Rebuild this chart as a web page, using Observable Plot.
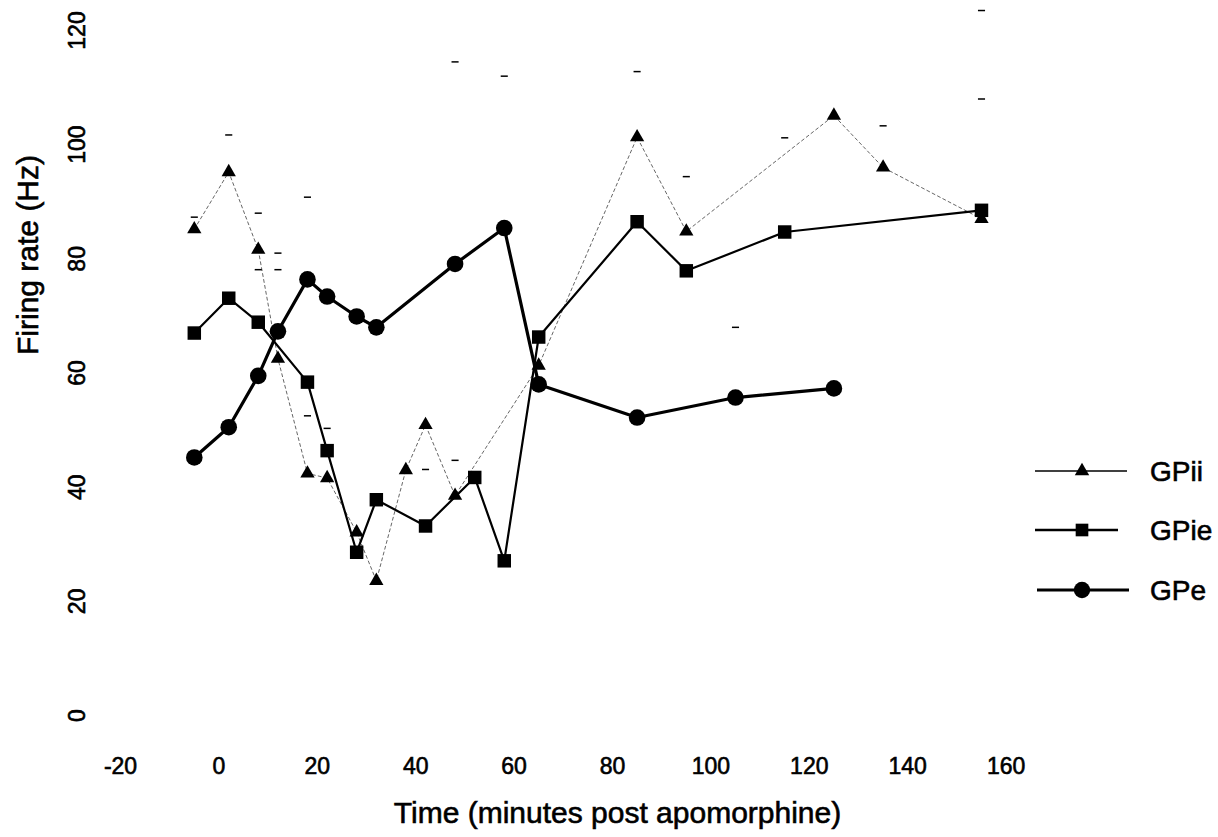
<!DOCTYPE html>
<html><head><meta charset="utf-8">
<script src="https://cdn.jsdelivr.net/npm/d3@7"></script>
<script src="https://cdn.jsdelivr.net/npm/@observablehq/plot@0.6"></script>
<style>
body{margin:0;background:#fff;font-family:"Liberation Sans",Arial,sans-serif;}
#wrap{position:relative;width:1218px;height:837px;overflow:hidden;}
#legend{position:absolute;left:1030px;top:445px;}
#wrap svg text{paint-order:stroke;stroke:#000;stroke-width:0.6px;}
</style></head><body><div id="wrap"></div>
<script>
// ---- data ----
const xTicks = [-20, 0, 20, 40, 60, 80, 100, 120, 140, 160];
const yTicks = [0, 20, 40, 60, 80, 100, 120];

const gpiiTime = [-5, 2, 8, 12, 18, 22, 28, 32, 38, 42, 48, 65, 85, 95, 125, 135, 155];
const gpiiRate = [85.2, 95.2, 81.6, 62.5, 42.4, 41.6, 32.1, 23.6, 43.0, 50.9, 38.5, 61.3, 101.3, 84.8, 105.1, 96.0, 87.0];

const gpieTime = [-5, 2, 8, 18, 22, 28, 32, 42, 52, 58, 65, 85, 95, 115, 155];
const gpieRate = [67.0, 73.1, 68.9, 58.4, 46.4, 28.6, 37.8, 33.2, 41.7, 27.1, 66.3, 86.5, 77.9, 84.7, 88.5];

const gpeTime = [-5, 2, 8, 12, 18, 22, 28, 32, 48, 58, 65, 85, 105, 125];
const gpeRate = [45.2, 50.5, 59.5, 67.3, 76.4, 73.4, 69.9, 68.0, 79.1, 85.4, 58.0, 52.2, 55.7, 57.3];

// faint error-bar caps left in the figure
const capTime = [-5, 2, 8, 12, 8, 12, 18, 48, 58, 85, 95, 115, 135, 155, 155, 105, 18, 22, 42, 48];
const capRate = [87.3, 101.7, 88, 81, 78.1, 78.1, 90.8, 114.5, 112, 112.8, 94.4, 101.2, 103.3, 123.5, 108, 68, 52.5, 50.3, 43.1, 44.7];

const seriesNames = ["GPii", "GPie", "GPe"];

// ---- build tables ----
const zip = (xs, ys) => xs.map((x, i) => ({x, y: ys[i]}));
const gpii = zip(gpiiTime, gpiiRate);
const gpie = zip(gpieTime, gpieRate);
const gpe = zip(gpeTime, gpeRate);
const caps = zip(capTime, capRate);

const dash = {draw(ctx, size) { const w = Math.sqrt(size) / 2; ctx.moveTo(-w, 0); ctx.lineTo(w, 0); }};
const FONT = "'Liberation Sans', Arial, Helvetica, sans-serif";

const chart = Plot.plot({
  width: 1218, height: 837,
  marginTop: 30, marginBottom: 122, marginLeft: 120, marginRight: 114,
  style: {fontFamily: FONT, fontSize: "23px", color: "#000", background: "#fff"},
  x: {domain: [-20, 180]},
  y: {domain: [0, 120]},
  marks: [
    Plot.axisX({ticks: xTicks, tickSize: 0, tickPadding: 42, label: null,
      tickFormat: d => (d < 0 ? "-" + Math.abs(d) : String(d))}),
    Plot.axisY({ticks: yTicks, tickSize: 0, tickPadding: 36, tickRotate: -90, label: null}),
    Plot.text(["Time (minutes post apomorphine)"], {frameAnchor: "bottom", dx: 5, dy: 107,
      fontSize: 30, fill: "#000"}),
    Plot.text(["Firing rate (Hz)"], {frameAnchor: "left", rotate: -90, dx: -92, dy: -18,
      fontSize: 30, fill: "#000"}),
    Plot.dot(caps, {x: "x", y: "y", symbol: dash, r: 4, stroke: "#000", strokeWidth: 1.5}),
    Plot.line(gpii, {x: "x", y: "y", stroke: "#000", strokeWidth: 1, strokeDasharray: "3,3", strokeOpacity: 0.6}),
    Plot.line(gpie, {x: "x", y: "y", stroke: "#000", strokeWidth: 2.2}),
    Plot.line(gpe, {x: "x", y: "y", stroke: "#000", strokeWidth: 3.2}),
    Plot.dot(gpii, {x: "x", y: "y", symbol: "triangle", r: 5.3, fill: "#000", stroke: "none"}),
    Plot.dot(gpie, {x: "x", y: "y", symbol: "square", r: 7.6, fill: "#000", stroke: "none"}),
    Plot.dot(gpe, {x: "x", y: "y", symbol: "circle", r: 8.3, fill: "#000", stroke: "none"})
  ]
});

const wrap = document.getElementById("wrap");
wrap.appendChild(chart);

// ---- legend ----
const lg = d3.create("svg").attr("id", "legend").attr("width", 188).attr("height", 170)
  .style("font-family", FONT);
const rows = [
  {name: seriesNames[0], y: 26, w: 1.5, x1: 5, x2: 97, sym: d3.symbolTriangle, size: 90},
  {name: seriesNames[1], y: 85, w: 2.5, x1: 5, x2: 88, sym: d3.symbolSquare, size: 160},
  {name: seriesNames[2], y: 145, w: 3, x1: 7, x2: 99, sym: d3.symbolCircle, size: 210}
];
for (const r of rows) {
  lg.append("line").attr("x1", r.x1).attr("x2", r.x2).attr("y1", r.y).attr("y2", r.y)
    .attr("stroke", "#000").attr("stroke-width", r.w);
  lg.append("path").attr("d", d3.symbol(r.sym, r.size)()).attr("transform", `translate(52,${r.y})`).attr("fill", "#000");
  lg.append("text").attr("x", 120).attr("y", r.y).attr("dy", "0.35em").attr("font-size", 28).attr("fill", "#000").text(r.name);
}
wrap.appendChild(lg.node());
</script></body></html>
